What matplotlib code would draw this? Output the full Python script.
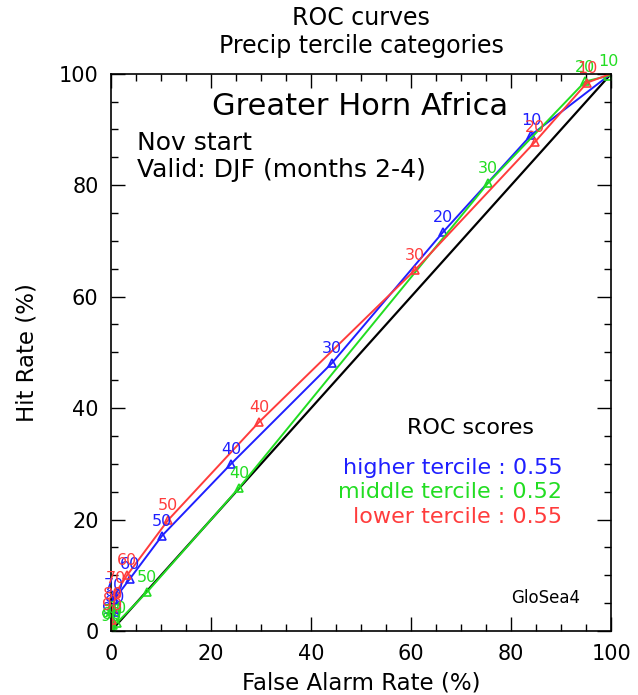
import matplotlib
matplotlib.use("Agg")
import matplotlib.pyplot as plt
from matplotlib.ticker import MultipleLocator

# probability thresholds (%) at each ROC point
thresholds = [0, 10, 20, 30, 40, 50, 60, 70, 80, 90, 100]

# higher tercile
far_high = [100, 84.0, 66.4, 44.2, 24.0, 10.2, 3.7, 0.6, 0.8, 0.2, 0]
hr_high = [100, 89.0, 71.6, 48.1, 30.0, 17.1, 9.3, 5.6, 3.4, 1.2, 0]

# middle tercile
far_mid = [100, 99.4, 94.8, 75.4, 25.6, 7.2, 1.2, 0.3, 0.2, 0.1, 0]
hr_mid = [100, 99.6, 98.6, 80.4, 25.7, 7.0, 1.5, 1.0, 0.4, 0.1, 0]

# lower tercile
far_low = [100, 95.2, 84.8, 60.8, 29.6, 11.4, 3.2, 0.9, 0.4, 0.2, 0]
hr_low = [100, 98.4, 87.8, 64.8, 37.5, 19.9, 10.0, 6.8, 4.0, 2.0, 0]

roc_names = ["higher tercile", "middle tercile", "lower tercile"]
roc_scores = [0.55, 0.52, 0.55]

blue = "#1f1fff"
green = "#22dd22"
red = "#ff3c3c"

fig = plt.figure(figsize=(6.38, 6.95), dpi=100)
ax = fig.add_axes([0.174, 0.092, 0.784, 0.802])

ax.plot([0, 100], [0, 100], color="black", lw=1.6)

curves = [(far_high, hr_high, blue), (far_mid, hr_mid, green), (far_low, hr_low, red)]
for far, hr, col in curves:
    ax.plot(far, hr, color=col, lw=1.4)
    ax.plot(far[1:-1], hr[1:-1], ls="none", marker="^", ms=6,
            mfc="none", mec=col, mew=1.2)
    for t, x, y in zip(thresholds[1:-1], far[1:-1], hr[1:-1]):
        ax.annotate(str(t), (x, y), xytext=(0, 5), textcoords="offset points",
                    ha="center", va="bottom", color=col, fontsize=11.5)

ax.set_xlim(0, 100)
ax.set_ylim(0, 100)
ax.xaxis.set_major_locator(MultipleLocator(20))
ax.xaxis.set_minor_locator(MultipleLocator(5))
ax.yaxis.set_major_locator(MultipleLocator(20))
ax.yaxis.set_minor_locator(MultipleLocator(5))
ax.tick_params(which="both", direction="in", top=True, right=True,
               width=1, labelsize=15, pad=9)
ax.tick_params(which="major", length=10)
ax.tick_params(which="minor", length=5)
for s in ax.spines.values():
    s.set_linewidth(1.2)

ax.set_xlabel("False Alarm Rate (%)", fontsize=16.5)
ax.set_ylabel("Hit Rate (%)", fontsize=16.5)
ax.xaxis.set_label_coords(0.5, -0.072)
ax.yaxis.set_label_coords(-0.145, 0.5)

fig.text(0.566, 0.974, "ROC curves", ha="center", va="center", fontsize=17)
fig.text(0.566, 0.934, "Precip tercile categories", ha="center", va="center", fontsize=17)

ax.text(0.498, 0.941, "Greater Horn Africa", transform=ax.transAxes,
        ha="center", va="center", fontsize=22)
ax.text(0.052, 0.876, "Nov start", transform=ax.transAxes,
        ha="left", va="center", fontsize=18)
ax.text(0.052, 0.828, "Valid: DJF (months 2-4)", transform=ax.transAxes,
        ha="left", va="center", fontsize=18)

ax.text(0.718, 0.364, "ROC scores", transform=ax.transAxes,
        ha="center", va="center", fontsize=16)
for i, (name, sc, col) in enumerate(zip(roc_names, roc_scores, [blue, green, red])):
    ax.text(0.902, 0.293 - i * 0.044, f"{name} : {sc:.2f}", transform=ax.transAxes,
            ha="right", va="center", fontsize=16, color=col)

ax.text(0.868, 0.059, "GloSea4", transform=ax.transAxes,
        ha="center", va="center", fontsize=12)

fig.savefig("out.png", dpi=100)
